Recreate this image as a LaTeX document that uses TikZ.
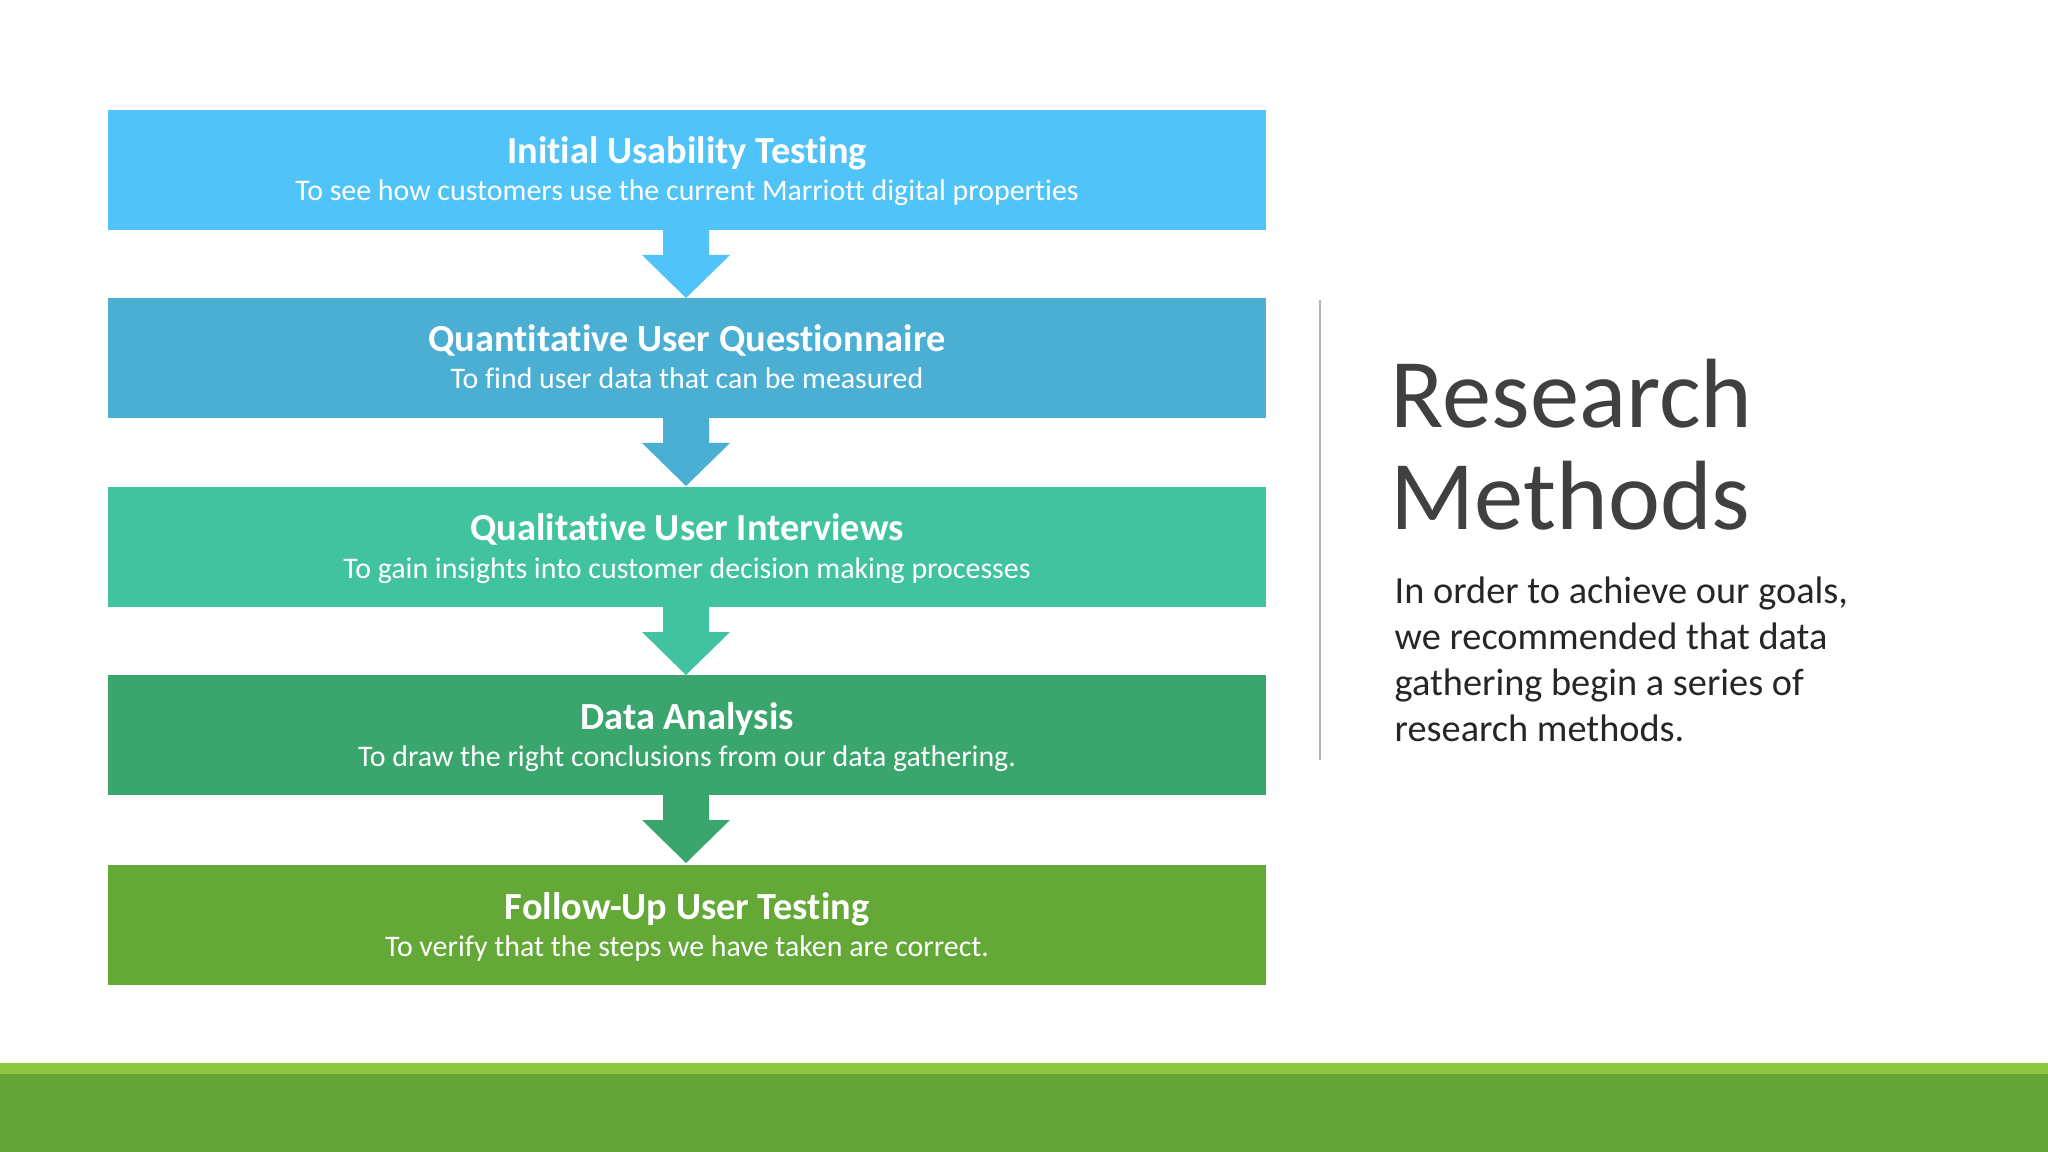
\documentclass[tikz,border=0pt]{standalone}
\usepackage{fontspec}
\setmainfont{Carlito}[RawFeature={-liga;-clig;-dlig}]
\definecolor{cA}{HTML}{50C3F8}
\definecolor{cB}{HTML}{4BAFD4}
\definecolor{cC}{HTML}{42C3A0}
\definecolor{cD}{HTML}{3AA66D}
\definecolor{cE}{HTML}{64A838}
\definecolor{band}{HTML}{64A336}
\definecolor{bandtop}{HTML}{8DC63F}
\definecolor{ttl}{HTML}{404040}
\tikzset{
  stage/.style={fill=#1, draw=none, minimum width=11.58cm, minimum height=1.2cm, inner sep=0pt},
  sttl/.style={text=white, inner sep=0pt, anchor=base, font=\fontsize{10.9}{12}\selectfont\bfseries},
  ssub/.style={text=white, inner sep=0pt, anchor=base, font=\fontsize{8.5}{10}\selectfont},
}
\begin{document}
\begin{tikzpicture}[x=0.01cm,y=-0.01cm]
\useasboundingbox (0,0) rectangle (2048,1152);
\fill[white] (0,0) rectangle (2048,1152);
\fill[bandtop] (0,1063) rectangle (2048,1074);
\fill[band] (0,1074) rectangle (2048,1152);
\foreach \y/\c in {230/cA,418/cB,607/cC,795/cD}{
  \fill[\c] (663,\y) -- (709,\y) -- (709,\y+25) -- (730,\y+25) -- (686,\y+68) -- (642,\y+25) -- (663,\y+25) -- cycle;
}
\foreach \n/\t/\c/\a/\b in {
  1/110/cA/Initial Usability Testing/To see how customers use the current Marriott digital properties,
  2/298/cB/Quantitative User Questionnaire/To find user data that can be measured,
  3/487/cC/Qualitative User Interviews/To gain insights into customer decision making processes,
  4/675/cD/Data Analysis/To draw the right conclusions from our data gathering.,
  5/865/cE/Follow-Up User Testing/To verify that the steps we have taken are correct.}{
  \node[stage=\c] (s\n) at (687,\t+60) {};
  \node[sttl] (s\n t) at (687,\t+54) {\a};
  \node[ssub] (s\n s) at (687,\t+91) {\b};
}
\draw[gray!60, line width=0.6pt] (1320,300) -- (1320,760);
\node[anchor=base west, text=ttl, inner sep=0pt, font=\fontsize{28}{29}\selectfont] (t1) at (1390,428) {Research};
\node[anchor=base west, text=ttl, inner sep=0pt, font=\fontsize{28}{29}\selectfont] (t2) at (1390,530) {Methods};
\node[anchor=base west, text=black!85, align=left, inner sep=0pt, font=\fontsize{10.9}{13}\selectfont] (p) at (1394,741) {In order to achieve our goals,\\we recommended that data\\gathering begin a series of\\research methods.};
\end{tikzpicture}
\end{document}
